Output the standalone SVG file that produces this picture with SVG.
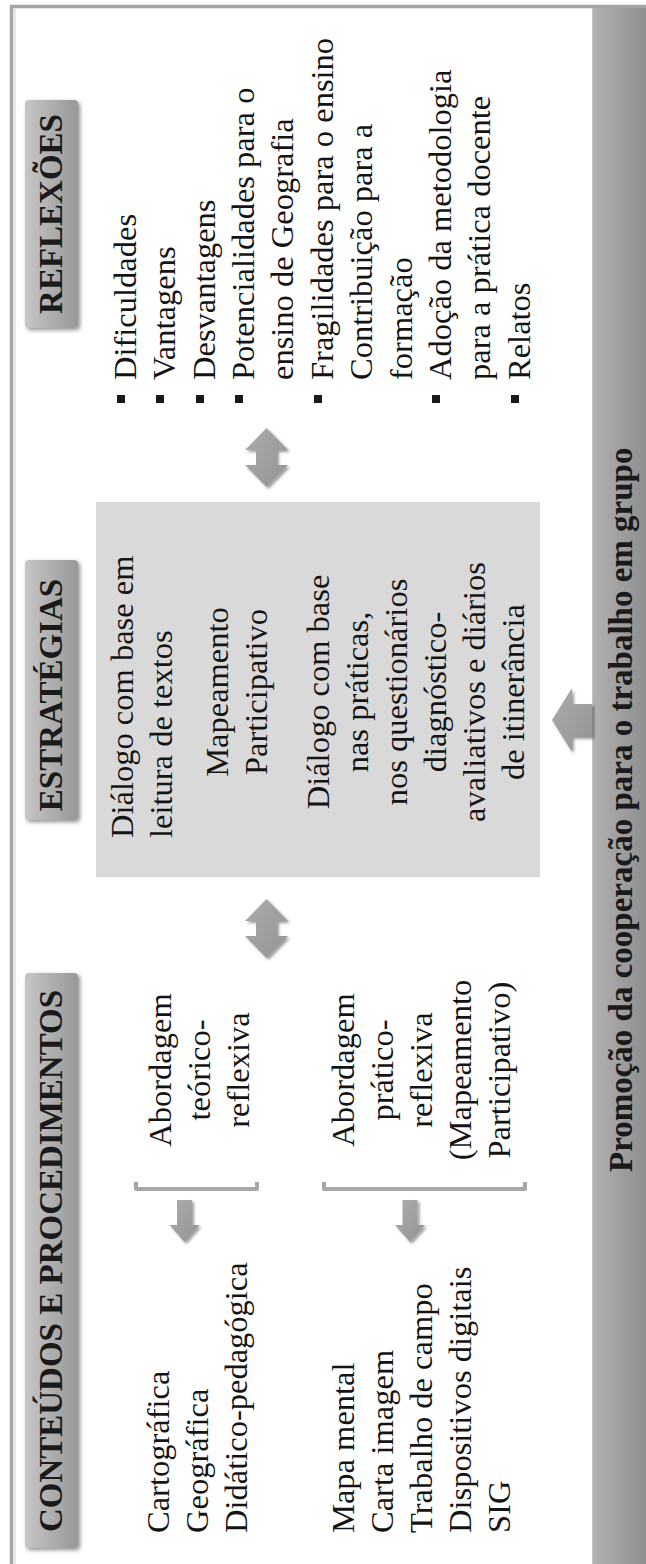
<svg xmlns="http://www.w3.org/2000/svg" width="646" height="1564" viewBox="0 0 646 1564">
  <defs>
    <style>
      .body { font-family: "Liberation Serif", "Times New Roman", "DejaVu Serif", serif; font-size: 32.5px; fill: #141414; }
      .head { font-family: "Liberation Serif", "Times New Roman", "DejaVu Serif", serif; font-size: 33px; font-weight: bold; fill: #1a1a1a; }
      .mid { text-anchor: middle; }
      .hbox { fill: url(#hgrad); filter: url(#shadow); }
      .arrow { fill: url(#agrad); filter: url(#ashadow); }
      .bracket { fill: none; stroke: #a6a6a6; stroke-width: 4; stroke-linejoin: round; }
      .bullet { fill: #1a1a1a; }
    </style>
    <linearGradient id="hgrad" x1="0" y1="0" x2="1" y2="0">
      <stop offset="0" stop-color="#c6c6c6"/>
      <stop offset="0.6" stop-color="#aaaaaa"/>
      <stop offset="1" stop-color="#989898"/>
    </linearGradient>
    <linearGradient id="bargrad" x1="0" y1="0" x2="1" y2="0">
      <stop offset="0" stop-color="#b2b2b2"/>
      <stop offset="1" stop-color="#8e8e8e"/>
    </linearGradient>
    <linearGradient id="agrad" x1="0" y1="0" x2="1" y2="1">
      <stop offset="0" stop-color="#acacac"/>
      <stop offset="1" stop-color="#939393"/>
    </linearGradient>
    <filter id="shadow" x="-20%" y="-5%" width="150%" height="112%">
      <feGaussianBlur in="SourceAlpha" stdDeviation="2"/>
      <feOffset dx="2" dy="2" result="b"/>
      <feComponentTransfer><feFuncA type="linear" slope="0.45"/></feComponentTransfer>
      <feMerge><feMergeNode/><feMergeNode in="SourceGraphic"/></feMerge>
    </filter>
    <filter id="ashadow" x="-30%" y="-30%" width="170%" height="170%">
      <feGaussianBlur in="SourceAlpha" stdDeviation="1.8"/>
      <feOffset dx="1.5" dy="1.5" result="b"/>
      <feComponentTransfer><feFuncA type="linear" slope="0.4"/></feComponentTransfer>
      <feMerge><feMergeNode/><feMergeNode in="SourceGraphic"/></feMerge>
    </filter>
  </defs>

  <!-- page background and outer frame -->
  <rect x="0" y="0" width="646" height="1564" fill="#ffffff"/>
  <path d="M11.5,1564 L11.5,6.5 L646,6.5" fill="none" stroke="#a4a4a4" stroke-width="3.5"/>
  <line x1="14.8" y1="8.5" x2="14.8" y2="1564" stroke="#dedede" stroke-width="1.5"/>

  <!-- bottom band: group cooperation -->
  <g id="cooperacao">
    <rect x="592" y="8" width="54" height="1556" fill="url(#bargrad)"/>
    <line x1="592.5" y1="8" x2="592.5" y2="1564" stroke="#c4c4c4" stroke-width="1"/>
    <text class="head" font-family="Liberation Serif, serif" transform="translate(0,1172) rotate(-90)" x="0" y="632">Promoção da cooperação para o trabalho em grupo</text>
  </g>

  <!-- column headers -->
  <g id="conteudos-header">
    <rect class="hbox" x="25" y="973" width="53" height="575" rx="4"/>
    <text class="head mid" transform="translate(0,1261) rotate(-90)" x="0" y="62">CONTEÚDOS E PROCEDIMENTOS</text>
  </g>
  <g id="estrategias-header">
    <rect class="hbox" x="25" y="560" width="53" height="260" rx="4"/>
    <text class="head mid" transform="translate(0,695) rotate(-90)" x="0" y="62">ESTRATÉGIAS</text>
  </g>
  <g id="reflexoes-header">
    <rect class="hbox" x="25" y="100" width="53" height="228" rx="4"/>
    <text class="head mid" transform="translate(0,214) rotate(-90)" x="0" y="62">REFLEXÕES</text>
  </g>

  <!-- contents -->
  <g id="conteudos-lista" class="body" font-family="Liberation Serif, serif" transform="translate(0,1533) rotate(-90)">
    <text x="0" y="169">Cartográfica</text>
    <text x="0" y="208">Geográfica</text>
    <text x="0" y="247">Didático-pedagógica</text>
    <text x="0" y="354">Mapa mental</text>
    <text x="0" y="393">Carta imagem</text>
    <text x="0" y="432">Trabalho de campo</text>
    <text x="0" y="471">Dispositivos digitais</text>
    <text x="0" y="510">SIG</text>
  </g>

  <g id="abordagem-teorica" class="body mid" font-family="Liberation Serif, serif" transform="translate(0,1070) rotate(-90)">
    <text x="0" y="171">Abordagem</text>
    <text x="0" y="210">teórico-</text>
    <text x="0" y="249">reflexiva</text>
  </g>
  <g id="abordagem-pratica" class="body mid" font-family="Liberation Serif, serif" transform="translate(0,1070) rotate(-90)">
    <text x="0" y="354">Abordagem</text>
    <text x="0" y="393">prático-</text>
    <text x="0" y="432">reflexiva</text>
    <text x="0" y="471">(Mapeamento</text>
    <text x="0" y="510">Participativo)</text>
  </g>

  <!-- strategies -->
  <g id="estrategias">
    <rect x="96" y="502" width="444" height="375" fill="#d9d9d9"/>
    <g class="body" font-family="Liberation Serif, serif" transform="translate(0,838) rotate(-90)">
      <text x="0" y="133">Diálogo com base em</text>
      <text x="0" y="172">leitura de textos</text>
    </g>
    <g class="body mid" font-family="Liberation Serif, serif" transform="translate(0,692) rotate(-90)">
      <text x="0" y="228">Mapeamento</text>
      <text x="0" y="267">Participativo</text>
      <text x="0" y="329">Diálogo com base</text>
      <text x="0" y="368">nas práticas,</text>
      <text x="0" y="407">nos questionários</text>
      <text x="0" y="446">diagnóstico-</text>
      <text x="0" y="485">avaliativos e diários</text>
      <text x="0" y="524">de itinerância</text>
    </g>
  </g>

  <!-- reflections -->
  <g id="reflexoes">
    <rect class="bullet" x="117" y="395" width="8" height="8"/>
    <rect class="bullet" x="156" y="395" width="8" height="8"/>
    <rect class="bullet" x="196" y="395" width="8" height="8"/>
    <rect class="bullet" x="235" y="395" width="8" height="8"/>
    <rect class="bullet" x="314" y="395" width="8" height="8"/>
    <rect class="bullet" x="432" y="395" width="8" height="8"/>
    <rect class="bullet" x="511" y="395" width="8" height="8"/>
    <g class="body" font-family="Liberation Serif, serif" transform="translate(0,380) rotate(-90)">
      <text x="0" y="136">Dificuldades</text>
      <text x="0" y="175">Vantagens</text>
      <text x="0" y="215">Desvantagens</text>
      <text x="0" y="254">Potencialidades para o</text>
      <text x="0" y="293">ensino de Geografia</text>
      <text x="0" y="333">Fragilidades para o ensino</text>
      <text x="0" y="372">Contribuição para a</text>
      <text x="0" y="412">formação</text>
      <text x="0" y="451">Adoção da metodologia</text>
      <text x="0" y="490">para a prática docente</text>
      <text x="0" y="530">Relatos</text>
    </g>
  </g>

  <!-- connectors: brackets and arrows -->
  <g id="conectores">
    <path class="bracket" d="M136,1182 L136,1189 L257,1189 L257,1182"/>
    <path class="bracket" d="M324,1182 L324,1189 L525,1189 L525,1182"/>
    <path class="arrow" transform="translate(184.5,1200)" d="M-7.5,0 L7.5,0 L7.5,25 L15,25 L0,42 L-15,25 L-7.5,25 Z"/>
    <path class="arrow" transform="translate(410,1200)" d="M-7.5,0 L7.5,0 L7.5,25 L15,25 L0,42 L-15,25 L-7.5,25 Z"/>
    <path class="arrow" transform="translate(266.5,457.5)" d="M0,-29.5 L21.5,-7.5 L10.5,-7.5 L10.5,7.5 L21.5,7.5 L0,29.5 L-21.5,7.5 L-10.5,7.5 L-10.5,-7.5 L-21.5,-7.5 Z"/>
    <path class="arrow" transform="translate(266.5,928.5)" d="M0,-29.5 L21.5,-7.5 L10.5,-7.5 L10.5,7.5 L21.5,7.5 L0,29.5 L-21.5,7.5 L-10.5,7.5 L-10.5,-7.5 L-21.5,-7.5 Z"/>
    <path class="arrow" d="M592,704 L572,704 L572,688 L552,720 L572,752 L572,737 L592,737 Z"/>
  </g>
</svg>
